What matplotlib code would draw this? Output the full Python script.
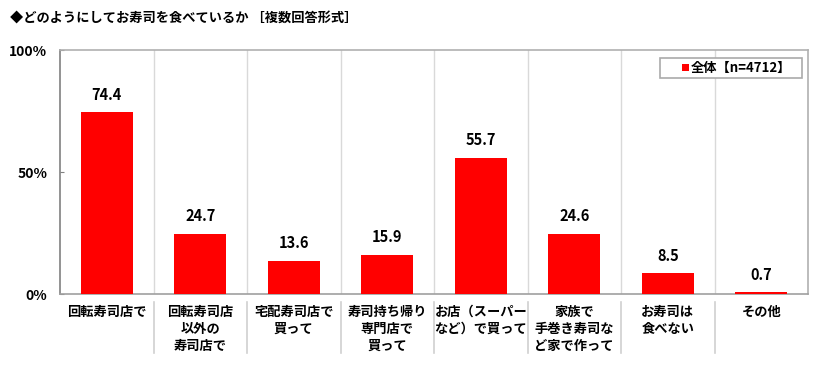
import matplotlib
matplotlib.use("Agg")
import matplotlib.pyplot as plt
from matplotlib.lines import Line2D
from matplotlib.patches import Rectangle

plt.rcParams['font.family'] = ['Noto Sans CJK JP', 'DejaVu Sans']

categories = ["回転寿司店で", "回転寿司店\n以外の\n寿司店で", "宅配寿司店で\n買って",
              "寿司持ち帰り\n専門店で\n買って", "お店（スーパー\nなど）で買って",
              "家族で\n手巻き寿司な\nど家で作って", "お寿司は\n食べない", "その他"]
values = [74.4, 24.7, 13.6, 15.9, 55.7, 24.6, 8.5, 0.7]
yticks = [0, 50, 100]
ytick_labels = ["0%", "50%", "100%"]
series_name = "全体【n=4712】"
title = "◆どのようにしてお寿司を食べているか ［複数回答形式］"

W = 'bold'
FW, FH = 826, 379
fig = plt.figure(figsize=(FW / 100, FH / 100), dpi=100)
ax = fig.add_axes([60/FW, 85/FH, 748/FW, 244/FH])
n = len(categories)
x = list(range(n))
ax.bar(x, values, width=0.56, color='#ff0000', zorder=3)
ax.set_xlim(-0.5, n - 0.5)
ax.set_ylim(0, 100)
ax.set_yticks(yticks)
ax.set_yticklabels(ytick_labels, fontsize=10, fontweight=W)
ax.set_xticks(x)
ax.set_xticklabels(categories, fontsize=9.5, fontweight=W, va='top', linespacing=1.25)
ax.tick_params(axis='x', length=0, pad=8)
ax.tick_params(axis='y', length=3, color='#808080', pad=9, direction='in')
for s in ax.spines.values():
    s.set_color('#b0b0b0')
    s.set_linewidth(1.2)
ax.spines['left'].set_color('#808080')
ax.spines['bottom'].set_color('#a0a0a0')

for i in range(1, n):
    ax.axvline(i - 0.5, color='#d9d9d9', linewidth=1, zorder=1)
    ax.add_line(Line2D([i - 0.5, i - 0.5], [-0.033, -0.242], transform=ax.get_xaxis_transform(),
                       color='#d0d0d0', linewidth=1.2, clip_on=False))

for xi, v in zip(x, values):
    ax.annotate(f"{v}", (xi, v), xytext=(0, 7), textcoords='offset points',
                ha='center', va='bottom', fontsize=10.5, fontweight=W)

# legend (drawn as a framed box with a colour square and text)
def fx(px):
    return px / FW
def fy(py):
    return 1 - py / FH

fig.patches.append(Rectangle((fx(660), fy(78)), fx(802) - fx(660), fy(58) - fy(78),
                             transform=fig.transFigure, facecolor='white',
                             edgecolor='#aaaaaa', linewidth=1.2, zorder=5))
fig.patches.append(Rectangle((fx(682), fy(71)), fx(689) - fx(682), fy(64) - fy(71),
                             transform=fig.transFigure, facecolor='#ff0000',
                             edgecolor='none', zorder=6))
fig.text(fx(691), fy(68), series_name, fontsize=9.5, fontweight=W,
         va='center', ha='left', zorder=7)

fig.text(10/FW, 1 - 19/FH, title, fontsize=9.5, fontweight=W, va='center', ha='left')

fig.savefig("out.png", dpi=100)
